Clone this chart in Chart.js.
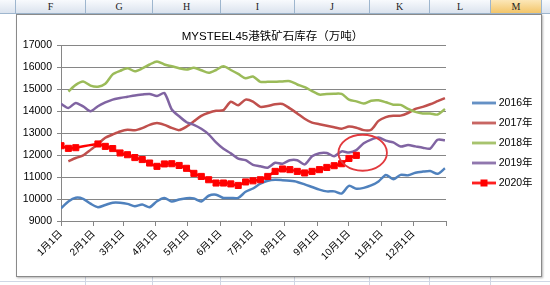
<!DOCTYPE html>
<html><head><meta charset="utf-8">
<script src="https://cdn.jsdelivr.net/npm/chart.js@4.4.1/dist/chart.umd.min.js"></script>
<style>
html,body{margin:0;padding:0;background:#fff;}
body{width:550px;height:285px;overflow:hidden;position:relative;}
#hdr{position:absolute;left:0;top:0;width:550px;height:13px;background:linear-gradient(#f8fafd,#dbe3ee);border-bottom:1px solid #9eb6ce;}
.col{position:absolute;top:0;height:13px;border-right:1px solid #9eb6ce;font:10px "Liberation Serif","DejaVu Serif",serif;color:#222;text-align:center;line-height:13px;box-sizing:border-box;}
.sel{background:linear-gradient(#fce7b8,#f3c569);}
.vline{position:absolute;top:14px;height:271px;width:1px;background:#d0d7e5;}
.hline{position:absolute;left:0;width:550px;height:1px;background:#d0d7e5;}
#frame{position:absolute;left:16px;top:14px;width:524px;height:261px;border:1px solid #8a8a8a;background:#fff;box-shadow:1px 1px 2px rgba(0,0,0,.3);}
canvas{display:block;}
</style></head>
<body>
<div id="hdr">
  <div class="col" style="left:0;width:16px"></div>
  <div class="col" style="left:16px;width:70px">F</div>
  <div class="col" style="left:86px;width:67px">G</div>
  <div class="col" style="left:153px;width:68px">H</div>
  <div class="col" style="left:221px;width:74px">I</div>
  <div class="col" style="left:295px;width:75px">J</div>
  <div class="col" style="left:370px;width:60px">K</div>
  <div class="col" style="left:430px;width:61px">L</div>
  <div class="col sel" style="left:491px;width:51px">M</div>
</div>
<div class="vline" style="left:85px"></div>
<div class="vline" style="left:152px"></div>
<div class="vline" style="left:220px"></div>
<div class="vline" style="left:294px"></div>
<div class="vline" style="left:369px"></div>
<div class="vline" style="left:429px"></div>
<div class="vline" style="left:490px"></div>
<div class="hline" style="top:281px"></div>
<div id="frame"><canvas id="c" width="524" height="261"></canvas></div>
<script>
// ---------- data ----------
const monthLabels = ['1月1日','2月1日','3月1日','4月1日','5月1日','6月1日','7月1日','8月1日','9月1日','10月1日','11月1日','12月1日'];
const monthStartDays = [0,31,59,90,120,151,181,212,243,273,304,334];
const yearEndDay = 365;
const seriesNames = ['2016年','2017年','2018年','2019年','2020年'];
const seriesFirstWeek = [0,1,1,0,0];

const inv2016 = [9580,9890,10060,10010,9790,9630,9730,9830,9830,9780,9670,9750,9630,9900,10050,9890,9980,10040,10030,9890,10150,10200,10050,10050,10050,10330,10480,10700,10830,10880,10860,10830,10780,10670,10550,10430,10350,10350,10250,10600,10470,10510,10620,10800,11100,10900,11100,11080,11200,11250,11280,11150,11400];
const inv2017 = [11720,11870,11990,12240,12510,12790,12940,13080,13160,13130,13230,13380,13460,13380,13240,13140,13300,13540,13790,13930,14020,14050,14430,14270,14530,14440,14200,14240,14320,14330,14130,13900,13660,13480,13410,13340,13270,13200,13300,13250,13140,13160,13560,13730,13790,13800,13920,14110,14200,14320,14460,14600];
const inv2018 = [14900,15200,15350,15170,15120,15250,15680,15840,15960,15820,15950,16130,16270,16130,16050,15960,15900,15980,15870,15750,15880,16050,15880,15700,15500,15580,15340,15340,15340,15360,15370,15220,15100,14920,14760,14790,14800,14790,14530,14450,14350,14480,14500,14410,14300,14290,14110,13970,13900,13900,13850,14100];
const inv2019 = [14340,14150,14380,14220,14000,14230,14400,14530,14600,14660,14720,14760,14790,14690,14830,14080,13770,13500,13380,13200,12950,12580,12290,12080,11840,11770,11560,11490,11430,11650,11610,11770,11770,11580,11950,12090,12100,11950,12170,12120,12230,12540,12710,12800,12660,12580,12390,12460,12400,12340,12300,12700,12680];
const inv2020 = [12430,12310,12340,null,null,12510,12400,12300,12100,12020,11890,11800,11640,11490,11600,11610,11530,11400,11170,11030,10880,10730,10730,10690,10620,10780,10830,10880,11030,11260,11370,11340,11260,11190,11260,11340,11440,11520,11610,11850,11990];

const yMin = 9000, yMax = 17000, yStep = 1000;
// ---------- styles ----------
const seriesValues = [inv2016, inv2017, inv2018, inv2019, inv2020];
const seriesColors = ['#4F81BD','#C0504D','#9BBB59','#8064A2','#FF0000'];
const FONT = '"Liberation Sans","Noto Sans CJK SC",sans-serif';
Chart.defaults.font.family = FONT;
Chart.defaults.color = '#000';

function makeIcon(color, marker){
  const c = document.createElement('canvas');
  c.width = 24; c.height = 9;
  const g = c.getContext('2d');
  g.fillStyle = color;
  g.fillRect(0, 3.25, 24, 2.5);
  if (marker) g.fillRect(8.5, 1, 7, 7);
  return c;
}
const legendIcons = seriesColors.map((c,i)=>makeIcon(c, i===4));

const datasets = seriesValues.map((vals, s) => ({
  label: seriesNames[s],
  data: vals.map((v,i)=>({x:(seriesFirstWeek[s]+i)*7, y:v})),
  borderColor: seriesColors[s],
  backgroundColor: seriesColors[s],
  borderWidth: 2.5,
  tension: 0.25,
  spanGaps: true,
  pointRadius: s===4 ? 4.3 : 0,
  pointStyle: 'rect',
  pointBorderWidth: 1,
  order: 5 - s
}));

const highlight = {centerDay:286, centerValue:12110, dayRadius:23, valueRadius:820};

const layoutTweak = {
  id:'layoutTweak',
  afterInit(chart){
    const lg = chart.legend; const fit = lg.fit;
    lg.fit = function(){ fit.call(this); this.width = 95; };
  },
  afterLayout(chart){
    const lg = chart.legend;
    lg.left += 19; lg.right += 19; lg.top -= 2.5; lg.bottom -= 2.5;
    const t = chart.titleBlock;
    t.left -= 6.5; t.right -= 6.5;
  }
};
const ellipsePlugin = {
  id:'ellipse',
  afterDatasetsDraw(chart){
    const {x, y} = chart.scales; const ctx = chart.ctx;
    const cx = x.getPixelForValue(highlight.centerDay);
    const cy = y.getPixelForValue(highlight.centerValue);
    const rx = Math.abs(x.getPixelForValue(highlight.centerDay + highlight.dayRadius) - cx);
    const ry = Math.abs(y.getPixelForValue(highlight.centerValue + highlight.valueRadius) - cy);
    ctx.save(); ctx.beginPath(); ctx.ellipse(cx, cy, rx, ry, 0, 0, Math.PI*2);
    ctx.strokeStyle = '#E23A3E'; ctx.lineWidth = 1.8; ctx.stroke(); ctx.restore();
  }
};

new Chart(document.getElementById('c'), {
  type:'line',
  data:{datasets},
  options:{
    responsive:false, animation:false,
    layout:{padding:0},
    plugins:{
      title:{display:true, text:'MYSTEEL45港铁矿石库存（万吨）', color:'#000', font:{size:11.5, weight:'normal'}, padding:{top:14.8, bottom:1.8}},
      legend:{position:'right', labels:{usePointStyle:true, pointStyleWidth:19, padding:9.5, color:'#000', font:{size:10.5},
        generateLabels:(chart)=>chart.data.datasets.map((ds,i)=>({text:ds.label, pointStyle:legendIcons[i], hidden:false, datasetIndex:i, fontColor:'#000', lineWidth:0, strokeStyle:'rgba(0,0,0,0)', fillStyle:'rgba(0,0,0,0)'}))}},
      tooltip:{enabled:false}
    },
    scales:{
      x:{type:'linear', min:0, max:yearEndDay,
        afterBuildTicks:s=>{ s.ticks = monthStartDays.concat([yearEndDay]).map(v=>({value:v})); },
        ticks:{autoSkip:false, minRotation:45, maxRotation:45, color:'#000', font:{size:10}, padding:2,
          callback:(v)=>{ const i = monthStartDays.indexOf(v); return i>=0 ? monthLabels[i] : ''; }},
        grid:{drawOnChartArea:false, drawTicks:true, tickLength:5, color:'#868686'},
        border:{color:'#868686'},
        afterFit:s=>{ s.height = 55; }
      },
      y:{min:yMin, max:yMax,
        ticks:{stepSize:yStep, color:'#000', font:{size:10.5}, padding:5, callback:v=>String(v)},
        grid:{color:'#868686', tickLength:4},
        border:{color:'#868686'},
        afterFit:s=>{ s.width = 44; }
      }
    }
  },
  plugins:[layoutTweak, ellipsePlugin]
});
</script>
</body></html>
